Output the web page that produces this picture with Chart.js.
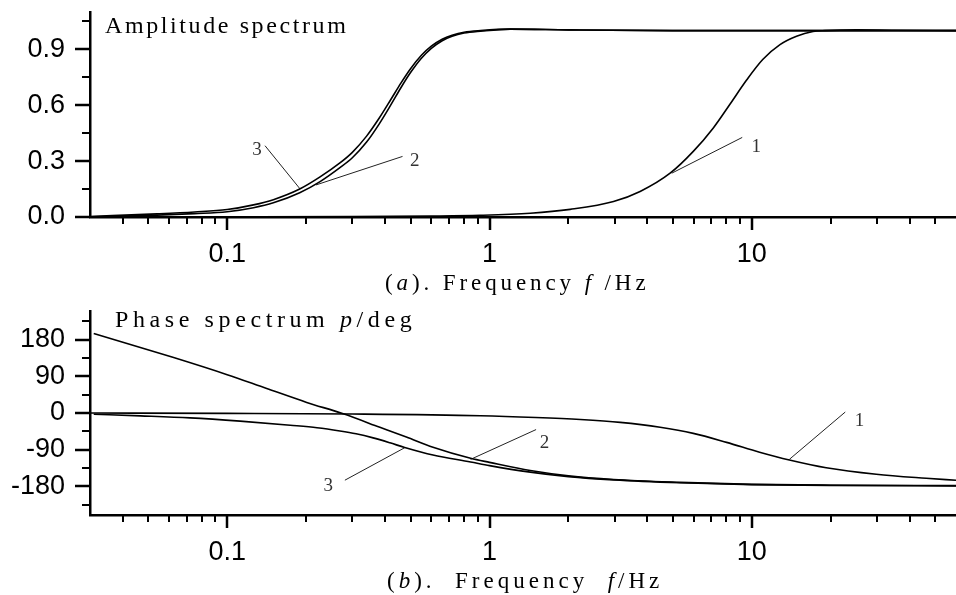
<!DOCTYPE html>
<html>
<head>
<meta charset="utf-8">
<script src="https://cdn.jsdelivr.net/npm/chart.js@4.4.1/dist/chart.umd.min.js"></script>
<style>
  html, body { margin: 0; padding: 0; background: #fff; }
  canvas { display: block; }
</style>
</head>
<body>
<canvas id="ampChart" width="956" height="295"></canvas>
<canvas id="phaseChart" width="956" height="300"></canvas>
<script>
// --- values ---
const freqTicks = [0.1, 1, 10];
const minorFreq = [0.04, 0.05, 0.06, 0.07, 0.08, 0.09,
                   0.2, 0.3, 0.4, 0.5, 0.6, 0.7, 0.8, 0.9,
                   2, 3, 4, 5, 6, 7, 8, 9,
                   20, 30, 40, 50];

// amplitude spectrum
const ampFreq1 = [0.03, 0.1, 0.3, 0.6, 0.92, 1.43, 2.03, 2.97, 3.75, 4.88, 5.98, 7.13, 8.25, 9.55, 11.0, 12.8, 14.8, 17.1, 19, 25, 35, 60];
const amp1     = [0, 0.001, 0.002, 0.005, 0.009, 0.02, 0.041, 0.083, 0.137, 0.235, 0.352, 0.478, 0.605, 0.735, 0.845, 0.925, 0.97, 0.995, 1.0, 1.004, 1.002, 1.0];
const ampFreq23 = [0.03, 0.054, 0.075, 0.1, 0.126, 0.15, 0.189, 0.226, 0.269, 0.30, 0.34, 0.38, 0.42, 0.46, 0.50, 0.55, 0.60, 0.66, 0.72, 0.80, 0.924, 1.2, 2, 5, 10, 20, 60];
const amp2      = [0.001, 0.01, 0.018, 0.028, 0.05, 0.076, 0.13, 0.19, 0.265, 0.318, 0.402, 0.50, 0.60, 0.695, 0.775, 0.852, 0.905, 0.946, 0.97, 0.987, 0.997, 1.008, 1.004, 1.0, 1.0, 1.0, 1.0];
const amp3      = [0.003, 0.017, 0.027, 0.04, 0.065, 0.093, 0.15, 0.215, 0.29, 0.347, 0.434, 0.531, 0.629, 0.72, 0.796, 0.868, 0.917, 0.954, 0.975, 0.991, 1.0, 1.008, 1.004, 1.0, 1.0, 1.0, 1.0];

// phase spectrum (deg)
const phaseFreq1 = [0.03, 0.1, 0.3, 0.924, 1.5, 2.22, 3.15, 4.47, 5.98, 8.01, 10.7, 13.9, 19.2, 29.8, 46.2, 60];
const phase1     = [0, -1, -2.5, -6.6, -11, -16, -23, -35, -50, -72, -96, -115, -134, -150, -160, -165];
const phaseFreq2 = [0.031, 0.0625, 0.1, 0.1415, 0.201, 0.277, 0.382, 0.482, 0.609, 0.847, 1.0, 1.43, 2, 2.97, 5.32, 10, 20, 60];
const phase2     = [195, 136, 94, 60, 26, -2, -35, -59, -84, -111, -121, -141, -154, -163, -170, -175, -177, -178];
const phaseFreq3 = [0.031, 0.0467, 0.0722, 0.112, 0.174, 0.22, 0.269, 0.31, 0.36, 0.417, 0.475, 0.609, 0.847, 1.0, 1.43, 2, 2.97, 5.32, 10, 20, 60];
const phase3     = [-3, -7, -12, -20, -30, -36, -44, -51, -61, -73, -84.5, -103, -120, -129, -145, -156, -164, -171, -175.5, -177.5, -178.5];

const ampTicks = [0, 0.3, 0.6, 0.9];
const ampMinor = [0.15, 0.45, 0.75, 1.05];
const phaseTicks = [-180, -90, 0, 90, 180];
const phaseMinor = [-225, -135, -45, 45, 135, 225];

// curve numbers [text, f, value] and leader lines [f1, v1, f2, v2]
const ampLabels = [["3", 0.130, 0.361], ["2", 0.519, 0.302], ["1", 10.4, 0.373]];
const ampLeaders = [[0.1394, 0.3825, 0.1895, 0.151], [0.466, 0.325, 0.218, 0.172], [9.19, 0.427, 4.95, 0.235]];
const phaseLabels = [["3", 0.2427, -178.5], ["2", 1.62, -74.7], ["1", 25.7, -18.7]];
const phaseLeaders = [[0.281, -164.7, 0.475, -85.1], [1.505, -40.6, 0.847, -113.6], [22.7, 2.4, 13.9, -113.6]];

function pts(fs, vs) {
    return fs.map((f, i) => ({ x: f, y: vs[i] }));
}

function curve(fs, vs) {
    return { data: pts(fs, vs), borderColor: "#000", borderWidth: 1.6, pointRadius: 0, cubicInterpolationMode: "monotone" };
}

function leader(l) {
    return { data: [{ x: l[0], y: l[1] }, { x: l[2], y: l[3] }], borderColor: "#222", borderWidth: 1, pointRadius: 0, tension: 0 };
}

// draw text char by char with extra spacing; parts = [[text, italic], ...]
function drawSpaced(ctx, parts, x, y, size, spacing, family) {
    parts.forEach(([txt, italic]) => {
        ctx.font = (italic ? "italic " : "") + size + "px " + family;
        for (const ch of txt) {
            ctx.fillText(ch, x, y);
            x += ctx.measureText(ch).width + spacing;
        }
    });
}

// ticks, curve numbers and titles
const decor = {
    id: "decor",
    afterDraw(chart, args, opts) {
        const ctx = chart.ctx;
        const xs = chart.scales.x, ys = chart.scales.y;
        const left = chart.chartArea.left, bottom = chart.chartArea.bottom;
        ctx.save();
        ctx.strokeStyle = "#000";
        ctx.lineCap = "butt";
        function seg(x1, y1, x2, y2, w) {
            ctx.lineWidth = w;
            ctx.beginPath();
            ctx.moveTo(x1, y1);
            ctx.lineTo(x2, y2);
            ctx.stroke();
        }
        freqTicks.forEach(f => {
            const px = Math.round(xs.getPixelForValue(f));
            seg(px, bottom, px, bottom + 13, 2.5);
        });
        minorFreq.forEach(f => {
            const px = Math.round(xs.getPixelForValue(f));
            seg(px, bottom, px, bottom + 7, 2);
        });
        opts.major.forEach(v => {
            const py = Math.round(ys.getPixelForValue(v));
            seg(left - 15, py, left, py, 2.5);
        });
        opts.minor.forEach(v => {
            const py = Math.round(ys.getPixelForValue(v));
            seg(left - 8, py, left, py, 2);
        });

        ctx.fillStyle = "#333";
        ctx.font = '19px "Liberation Serif"';
        ctx.textAlign = "center";
        ctx.textBaseline = "middle";
        opts.labels.forEach(([t, f, v]) => {
            ctx.fillText(t, xs.getPixelForValue(f), ys.getPixelForValue(v));
        });

        ctx.fillStyle = "#000";
        ctx.textAlign = "left";
        ctx.textBaseline = "alphabetic";
        const tt = opts.title;
        drawSpaced(ctx, tt.parts, tt.x, tt.y, tt.size, tt.spacing, '"Liberation Serif"');
        const at = opts.axisTitle;
        drawSpaced(ctx, at.parts, at.x, at.y, at.size, at.spacing, '"Liberation Serif"');
        ctx.restore();
    }
};

function makeOptions(yMin, yMax, yTicks, yFmt, padTop, xHeight, decorOpts) {
    return {
        responsive: false,
        animation: false,
        events: [],
        layout: { padding: { top: padTop, left: 0, right: 0, bottom: 0 } },
        plugins: { legend: { display: false }, tooltip: { enabled: false }, decor: decorOpts },
        scales: {
            x: {
                type: "logarithmic",
                min: 0.03,
                max: 60,
                grid: { display: false, drawTicks: false },
                border: { display: true, color: "#000", width: 2.5 },
                ticks: {
                    color: "#000",
                    padding: 21,
                    font: { family: '"Liberation Sans", Arial, sans-serif', size: 27 },
                    callback: v => String(v)
                },
                afterBuildTicks: s => { s.ticks = freqTicks.map(v => ({ value: v })); },
                afterFit: s => { s.height = xHeight; s.paddingLeft = 0; s.paddingRight = 0; }
            },
            y: {
                min: yMin,
                max: yMax,
                grid: { display: false, drawTicks: false },
                border: { display: true, color: "#000", width: 2.5 },
                ticks: {
                    color: "#000",
                    padding: 25,
                    font: { family: '"Liberation Sans", Arial, sans-serif', size: 27 },
                    callback: yFmt
                },
                afterBuildTicks: s => { s.ticks = yTicks.map(v => ({ value: v })); },
                afterFit: s => { s.width = 90; s.paddingTop = 0; s.paddingBottom = 0; }
            }
        }
    };
}

new Chart(document.getElementById("ampChart"), {
    type: "line",
    data: {
        datasets: [
            curve(ampFreq1, amp1),
            curve(ampFreq23, amp2),
            curve(ampFreq23, amp3)
        ].concat(ampLeaders.map(leader))
    },
    options: makeOptions(0, 1.1, ampTicks, v => v.toFixed(1), 12, 78, {
        major: ampTicks,
        minor: ampMinor,
        labels: ampLabels,
        title: { parts: [["Amplitude spectrum", false]], x: 105, y: 33, size: 24, spacing: 2.6 },
        axisTitle: { parts: [["(", false], ["a", true], ["). Frequency ", false], ["f", true], [" /Hz", false]], x: 385, y: 290, size: 23, spacing: 3.9 }
    }),
    plugins: [decor]
});

new Chart(document.getElementById("phaseChart"), {
    type: "line",
    data: {
        datasets: [
            curve(phaseFreq1, phase1),
            curve(phaseFreq2, phase2),
            curve(phaseFreq3, phase3)
        ].concat(phaseLeaders.map(leader))
    },
    options: makeOptions(-250, 250, phaseTicks, v => String(v), 16, 80, {
        major: phaseTicks,
        minor: phaseMinor,
        labels: phaseLabels,
        title: { parts: [["Phase spectrum ", false], ["p", true], ["/deg", false]], x: 115, y: 32, size: 24, spacing: 4.6 },
        axisTitle: { parts: [["(", false], ["b", true], [").  Frequency  ", false], ["f", true], ["/Hz", false]], x: 387, y: 293, size: 23, spacing: 4.0 }
    }),
    plugins: [decor]
});
</script>
</body>
</html>
